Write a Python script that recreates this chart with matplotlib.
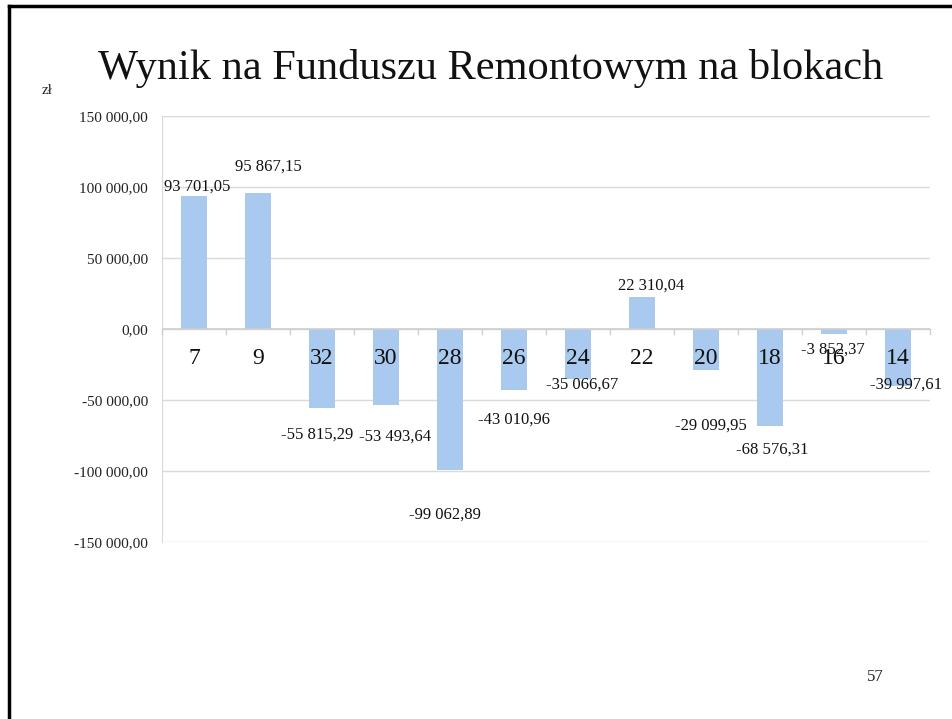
import matplotlib
matplotlib.use("Agg")
import matplotlib.pyplot as plt
from matplotlib.ticker import FuncFormatter
from matplotlib.lines import Line2D

categories = ["7", "9", "32", "30", "28", "26", "24", "22", "20", "18", "16", "14"]
values = [93701.05, 95867.15, -55815.29, -53493.64, -99062.89, -43010.96,
          -35066.67, 22310.04, -29099.95, -68576.31, -3852.37, -39997.61]
yticks = [150000, 100000, 50000, 0, -50000, -100000, -150000]

# data-label offsets in pixels relative to the bar end (styling)
label_offsets = [(3, 9), (10, 26), (-5, -26), (9, -32), (-5, -45), (0, -30),
                 (4, -6), (9, 12), (5, -55), (2, -23), (-1, -15), (8, 1)]

def fmt(v):
    s = f"{abs(v):,.2f}".replace(",", " ").replace(".", ",")
    return ("-" if v < 0 else "") + s

plt.rcParams['font.family'] = ['Liberation Serif', 'DejaVu Serif']

fig = plt.figure(figsize=(9.53, 7.19), dpi=100)
W, H = 953, 719
ax = fig.add_axes([162 / W, 1 - 542 / H, (930 - 162) / W, (542 - 116) / H])

x = list(range(len(categories)))
ax.bar(x, values, width=0.40, color="#a9c9ee", zorder=2)
ax.set_xlim(-0.5, len(categories) - 0.5)
ax.set_ylim(-150000, 150000)
ax.set_yticks(yticks)
ax.yaxis.set_major_formatter(FuncFormatter(lambda v, p: fmt(v)))
ax.tick_params(axis='y', length=0, labelsize=11, pad=10, colors="#222222")
ax.grid(axis='y', color="#d9d9d9", linewidth=1, zorder=0)
ax.set_xticks([])
for s in ["top", "right", "bottom"]:
    ax.spines[s].set_visible(False)
ax.spines["left"].set_color("#d9d9d9")

# zero line with category tick marks
ax.axhline(0, color="#cfcfcf", linewidth=1.2, zorder=3)
for b in range(len(categories) + 1):
    ax.plot([b - 0.5, b - 0.5], [0, -3500], color="#cfcfcf", linewidth=1, zorder=3, clip_on=False)

# category labels just below zero line
for xi, c in zip(x, categories):
    ax.annotate(c, (xi, 0), xytext=(0, -29), textcoords="offset pixels",
                ha="center", va="center", fontsize=17, color="#111111", zorder=4)

# data labels
for xi, v, off in zip(x, values, label_offsets):
    ax.annotate(fmt(v), (xi, v), xytext=off, textcoords="offset pixels",
                ha="center", va="center", fontsize=12, color="#111111", zorder=5)

fig.text(491 / W, 1 - 68 / H, "Wynik na Funduszu Remontowym na blokach",
         ha="center", va="center", fontsize=30.5, color="#111111")
fig.text(47 / W, 1 - 90 / H, "zł", ha="center", va="center", fontsize=11, color="#222222")
fig.text(875 / W, 1 - 677 / H, "57", ha="center", va="center", fontsize=12, color="#222222")

# slide frame (left and top edges)
fig.add_artist(Line2D([9 / W, 9 / W], [0, 1 - 6 / H], transform=fig.transFigure, color="black", linewidth=2.5))
fig.add_artist(Line2D([9 / W, 1], [1 - 6 / H, 1 - 6 / H], transform=fig.transFigure, color="black", linewidth=2.5))

fig.savefig("out.png", dpi=100)
